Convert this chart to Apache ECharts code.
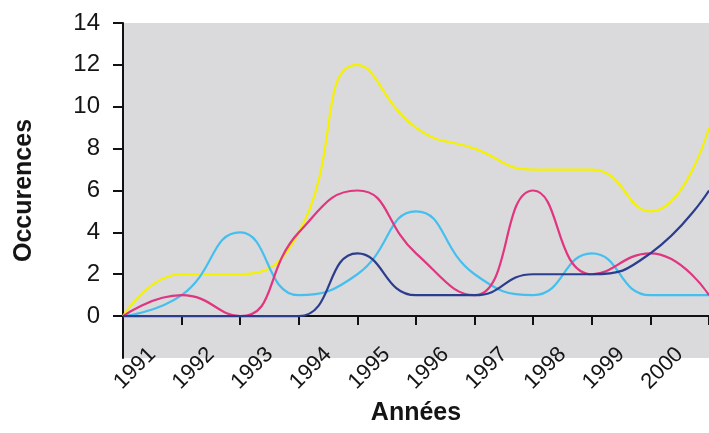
<!DOCTYPE html>
<html>
<head>
<meta charset="utf-8">
<script src="https://cdn.jsdelivr.net/npm/echarts@6/dist/echarts.min.js"></script>
<style>
html,body{margin:0;padding:0;background:#fff;}
#chart{width:709px;height:433px;}
</style>
</head>
<body>
<div id="chart"></div>
<script>
// Category labels shown under the axis
const years = ['1991','1992','1993','1994','1995','1996','1997','1998','1999','2000'];
// Data points sit on the tick marks (11 positions)
const pointCats = ['1991','1992','1993','1994','1995','1996','1997','1998','1999','2000','2001'];
// Series values
const yellowVals    = [0, 2, 2, 4, 12, 9, 8, 7, 7, 5, 9];
const magentaVals   = [0, 1, 0, 4, 6, 3, 1, 6, 2, 3, 1];
const lightBlueVals = [0, 1, 4, 1, 2, 5, 2, 1, 3, 1, 1];
const darkBlueVals  = [0, 0, 0, 0, 3, 1, 1, 2, 2, 3, 6];
// Value axis ticks
const yMin = -2, yMax = 14, yStep = 2;

const FONT = "'Liberation Sans', Arial, sans-serif";
const chart = echarts.init(document.getElementById('chart'), null, {renderer: 'canvas'});

function line(name, data, color, z) {
  return {
    name: name, type: 'line', xAxisIndex: 0, yAxisIndex: 0,
    data: data, smooth: 0.5, showSymbol: false, symbol: 'none',
    lineStyle: {color: color, width: 2.2}, z: z, clip: true
  };
}

chart.setOption({
  animation: false,
  backgroundColor: '#ffffff',
  grid: [
    {left: 123, right: -6, top: 23, bottom: 75, show: true, backgroundColor: '#dadadc', borderWidth: 0},
    {left: 123, right: -6, top: 23, bottom: 117, show: false}
  ],
  xAxis: [
    {gridIndex: 0, type: 'category', data: pointCats, boundaryGap: false, show: false},
    {gridIndex: 0, type: 'category', data: years, boundaryGap: true, position: 'bottom',
     axisLine: {show: false, onZero: false}, axisTick: {show: false}, splitLine: {show: false},
     axisLabel: {rotate: 45, margin: -7, fontSize: 22, color: '#151515', fontFamily: FONT, interval: 0},
     name: 'Années', nameLocation: 'middle', nameGap: 43,
     nameTextStyle: {fontSize: 25, fontWeight: 'bold', color: '#151515', fontFamily: FONT}},
    {gridIndex: 1, type: 'category', data: pointCats, boundaryGap: false, position: 'bottom',
     axisLine: {show: true, onZero: false, lineStyle: {color: '#111', width: 2}},
     axisTick: {show: true, length: 9, lineStyle: {color: '#111', width: 2}},
     axisLabel: {show: false}, splitLine: {show: false}}
  ],
  yAxis: [
    {gridIndex: 0, type: 'value', min: yMin, max: yMax, interval: yStep,
     axisLine: {show: true, lineStyle: {color: '#111', width: 2}},
     axisTick: {show: false}, axisLabel: {show: false}, splitLine: {show: false},
     name: 'Occurences', nameLocation: 'middle', nameGap: 86,
     nameTextStyle: {fontSize: 25, fontWeight: 'bold', color: '#151515', fontFamily: FONT}},
    {gridIndex: 1, type: 'value', min: 0, max: yMax, interval: yStep,
     axisLine: {show: false}, splitLine: {show: false},
     axisTick: {show: true, length: 10, lineStyle: {color: '#111', width: 2}},
     axisLabel: {fontSize: 24, margin: 23, color: '#151515', fontFamily: FONT}}
  ],
  series: [
    line('Série 1', yellowVals, '#f5f200', 3),
    line('Série 2', lightBlueVals, '#45bfee', 4),
    line('Série 3', magentaVals, '#e0357f', 5),
    line('Série 4', darkBlueVals, '#2c3d8e', 6)
  ]
});
</script>
</body>
</html>
